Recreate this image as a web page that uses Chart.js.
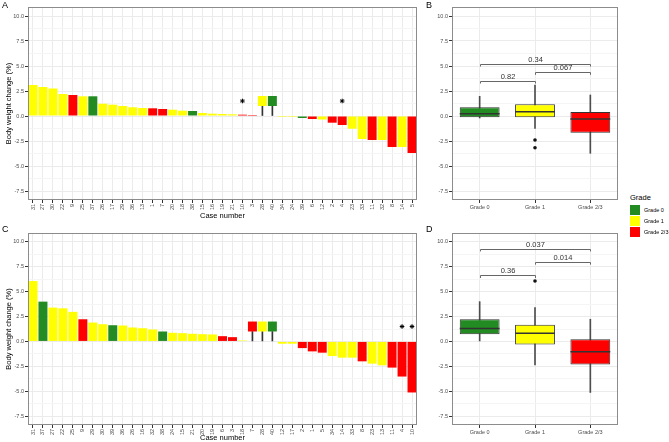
<!DOCTYPE html>
<html>
<head>
<meta charset="UTF-8">
<title>Body weight change by grade</title>
<script src="https://cdn.jsdelivr.net/npm/chart.js"></script>
<style>
  body { margin: 0; background: #fff; font-family: "Liberation Sans", Arial, sans-serif; }
  #page { position: relative; width: 669px; height: 442px; overflow: hidden; }
  canvas { position: absolute; }
  .tag { position: absolute; font-size: 9px; line-height: 9px; color: #000; }
  #legend { position: absolute; left: 630px; top: 193px; }
  #legend .title { font-size: 7.5px; line-height: 9px; color: #000; margin-bottom: 3px; }
  #legend .item { position: relative; height: 11px; }
  #legend .key { position: absolute; left: 0; top: 0; width: 10px; height: 10px; }
  #legend .lab { position: absolute; left: 14px; top: 2px; font-size: 5.5px; line-height: 6px; color: #000; white-space: nowrap; }
</style>
</head>
<body>
<div id="page">
  <canvas id="chartA" width="422" height="220" style="left:0;top:0"></canvas>
  <canvas id="chartB" width="198" height="220" style="left:424px;top:0"></canvas>
  <canvas id="chartC" width="422" height="216" style="left:0;top:226px"></canvas>
  <canvas id="chartD" width="198" height="216" style="left:424px;top:226px"></canvas>
  <div class="tag" style="left:2px;top:1px">A</div>
  <div class="tag" style="left:426px;top:1px">B</div>
  <div class="tag" style="left:2px;top:225px">C</div>
  <div class="tag" style="left:426px;top:225px">D</div>
  <div id="legend"><div class="title">Grade</div></div>
</div>

<script>
const FONT = '"Liberation Sans", Arial, sans-serif';

const yMajor = [-7.5, -5, -2.5, 0, 2.5, 5, 7.5, 10];
const yMin = -8.4, yMax = 10.9;

const gradeNames = ['Grade 0', 'Grade 1', 'Grade 2/3'];
const gradeColors = ['#228B22', '#FFFF00', '#FF0000'];

// cases with no value get a floating marker from naLow to naHigh, stem from 0
const naLow = 1, naHigh = 2;
const starY = 1.5;

// panel A
const casesA = ['31','27','30','22','9','25','37','26','17','29','36','13','1','7','20','18','38','15','16','19',
                '21','10','3','28','40','34','24','39','6','12','2','4','23','33','11','32','8','14','5'];
const changeA = [3.1, 2.9, 2.75, 2.2, 2.1, 1.97, 1.97, 1.23, 1.13, 1.0, 0.87, 0.8, 0.77, 0.7, 0.63, 0.53, 0.5, 0.3, 0.23, 0.2,
                 0.17, 0.13, 0.1, null, null, -0.1, -0.1, -0.2, -0.3, -0.35, -0.67, -0.9, -1.27, -2.3, -2.4, -2.4, -3.1, -3.1, -3.7];
const gradeA = [1,1,1,1,2,1,0,1,1,1,1,1,2,2,1,1,0,1,1,1,
                1,2,2,1,0,1,1,0,2,1,2,2,1,1,2,1,2,1,2];
const starCasesA = ['10', '4'];

// panel C
const casesC = ['31','37','27','22','25','9','29','30','39','36','26','16','32','38','24','15','21','20','19','6',
                '3','18','7','28','40','12','17','2','1','5','34','14','33','8','23','13','11','4','10'];
const changeC = [6.07, 4.0, 3.4, 3.33, 2.97, 2.23, 1.9, 1.73, 1.63, 1.6, 1.4, 1.33, 1.2, 1.0, 0.87, 0.83, 0.77, 0.73, 0.7, 0.53,
                 0.43, 0.1, null, null, null, -0.23, -0.23, -0.67, -1.0, -1.13, -1.47, -1.63, -1.63, -2.0, -2.23, -2.4, -2.63, -3.53, -5.13];
const gradeC = [1,0,1,1,1,2,1,1,0,1,1,1,1,0,1,1,1,1,1,2,
                2,1,2,1,0,1,1,2,2,2,1,1,1,2,1,1,2,2,2];
const starCasesC = ['4', '10'];

// panel B boxplots
const lowB = [-0.2, -1.23, -3.73];
const q1B = [-0.13, -0.13, -1.67];
const medB = [0.23, 0.43, -0.3];
const q3B = [0.87, 1.17, 0.4];
const highB = [1.97, 3.1, 2.1];
const outGroupB = ['Grade 1', 'Grade 1'];
const outB = [-2.4, -3.17];

// panel D boxplots
const lowD = [0, -2.37, -5.13];
const q1D = [0.73, -0.3, -2.33];
const medD = [1.3, 0.83, -1.03];
const q3D = [2.23, 1.67, 0.23];
const highD = [4.0, 3.4, 2.23];
const outGroupD = ['Grade 1'];
const outD = [6.07];

// p-value brackets
const bracketFrom = [0, 1, 0];
const bracketTo = [1, 2, 2];
const bracketYB = [3.5, 4.37, 5.2];
const pLabelsB = ['0.82', '0.067', '0.34'];
const bracketYD = [6.63, 7.97, 9.3];
const pLabelsD = ['0.36', '0.014', '0.037'];
const bracketDrop = 0.25;

Chart.defaults.font.family = FONT;
Chart.defaults.animation = false;

const tickFont = { family: FONT, size: 5.5 };
const tickColor = '#4D4D4D';
const titleFont = { family: FONT, size: 7.5 };

const frame = {
  id: 'frame',
  afterDraw(chart) {
    const a = chart.chartArea, ctx = chart.ctx;
    ctx.save();
    ctx.strokeStyle = '#8C8C8C';
    ctx.lineWidth = 1;
    ctx.strokeRect(Math.round(a.left) + 0.5, Math.round(a.top) + 0.5,
                   Math.round(a.right - a.left) - 1, Math.round(a.bottom - a.top) - 1);
    ctx.restore();
  }
};

function yAxis(width, title) {
  const minor = yMajor.slice(1).map((v, i) => (v + yMajor[i]) / 2);
  const all = yMajor.concat(minor).sort((a, b) => a - b);
  const isMajor = c => c.tick && yMajor.includes(c.tick.value);
  return {
    min: yMin, max: yMax,
    afterBuildTicks: s => { s.ticks = all.map(v => ({ value: v })); },
    afterFit: s => { s.width = width; },
    ticks: { autoSkip: false, font: tickFont, color: tickColor, padding: 1,
             callback: v => yMajor.includes(v) ? v.toFixed(1) : '' },
    grid: { color: c => isMajor(c) ? '#EBEBEB' : '#F5F5F5',
            tickColor: c => isMajor(c) ? '#333' : 'rgba(0,0,0,0)',
            tickLength: 3 },
    border: { display: false },
    title: { display: !!title, text: title || '', font: titleFont, color: '#000', padding: { top: 4, bottom: 0 } }
  };
}

function xAxis(height, title, rotate) {
  return {
    afterFit: s => { s.height = height; },
    ticks: { autoSkip: false, minRotation: rotate, maxRotation: rotate, font: tickFont, color: tickColor, padding: 1 },
    grid: { offset: false, color: '#EBEBEB', tickColor: '#333', tickLength: 3 },
    border: { display: false },
    title: { display: !!title, text: title || '', font: titleFont, color: '#000', padding: { top: 0, bottom: 0 } }
  };
}

function barPanel(id, cases, change, grade, starCases, xHeight) {
  const colors = grade.map(g => gradeColors[g]);
  const naBox = change.map(v => v === null ? [naLow, naHigh] : null);
  const naStem = change.map(v => v === null ? [0, naLow] : null);
  new Chart(document.getElementById(id), {
    type: 'bar',
    data: {
      labels: cases,
      datasets: [
        { data: change, backgroundColor: colors, grouped: false, barPercentage: 0.9, categoryPercentage: 1, order: 2 },
        { data: naBox, backgroundColor: colors, grouped: false, barPercentage: 0.9, categoryPercentage: 1, order: 2 },
        { data: naStem, backgroundColor: '#333', grouped: false, barThickness: 1, order: 3 },
        { type: 'line', data: starCases.map(c => ({ x: c, y: starY })), showLine: false,
          pointStyle: 'star', pointRadius: 2.3, borderColor: '#000', backgroundColor: '#000', borderWidth: 1, order: 1 }
      ]
    },
    options: {
      responsive: false,
      layout: { padding: { top: 7, right: 5, left: 0, bottom: 0 } },
      plugins: { legend: { display: false }, tooltip: { enabled: false } },
      scales: {
        x: xAxis(xHeight, 'Case number', 90),
        y: yAxis(28, 'Body weight change (%)')
      }
    },
    plugins: [frame]
  });
}

function boxPanel(id, low, q1, med, q3, high, outGroup, out, brY, brLabels, xHeight) {
  const medians = {
    id: 'medians',
    afterDatasetsDraw(chart) {
      const meta = chart.getDatasetMeta(1), y = chart.scales.y, ctx = chart.ctx;
      ctx.save();
      ctx.strokeStyle = '#333';
      ctx.lineWidth = 1.5;
      meta.data.forEach((el, i) => {
        const yy = y.getPixelForValue(med[i]);
        ctx.beginPath();
        ctx.moveTo(el.x - el.width / 2, yy);
        ctx.lineTo(el.x + el.width / 2, yy);
        ctx.stroke();
      });
      ctx.restore();
    }
  };
  const brackets = {
    id: 'brackets',
    afterDatasetsDraw(chart) {
      const x = chart.scales.x, y = chart.scales.y, ctx = chart.ctx;
      ctx.save();
      ctx.strokeStyle = '#666';
      ctx.lineWidth = 1;
      ctx.fillStyle = '#333';
      ctx.font = '7.5px ' + FONT;
      ctx.textAlign = 'center';
      ctx.textBaseline = 'bottom';
      brY.forEach((v, i) => {
        const x0 = Math.round(x.getPixelForValue(bracketFrom[i])) + 0.5;
        const x1 = Math.round(x.getPixelForValue(bracketTo[i])) + 0.5;
        const yy = Math.round(y.getPixelForValue(v)) + 0.5;
        const yd = y.getPixelForValue(v - bracketDrop);
        ctx.beginPath();
        ctx.moveTo(x0, yd);
        ctx.lineTo(x0, yy);
        ctx.lineTo(x1, yy);
        ctx.lineTo(x1, yd);
        ctx.stroke();
        ctx.fillText(brLabels[i], (x0 + x1) / 2, yy - 1);
      });
      ctx.restore();
    }
  };
  new Chart(document.getElementById(id), {
    type: 'bar',
    data: {
      labels: gradeNames,
      datasets: [
        { data: low.map((v, i) => [v, high[i]]), backgroundColor: '#4D4D4D', grouped: false, barThickness: 1, order: 3 },
        { data: q1.map((v, i) => [v, q3[i]]), backgroundColor: gradeColors, borderColor: '#333', borderWidth: 1,
          borderSkipped: false, grouped: false, barPercentage: 0.72, categoryPercentage: 1, order: 2 },
        { type: 'line', data: out.map((v, i) => ({ x: outGroup[i], y: v })), showLine: false,
          pointRadius: 1.8, backgroundColor: '#111', borderWidth: 0, order: 1 }
      ]
    },
    options: {
      responsive: false,
      layout: { padding: { top: 7, right: 3, left: 0, bottom: 0 } },
      plugins: { legend: { display: false }, tooltip: { enabled: false } },
      scales: {
        x: xAxis(xHeight, '', 0),
        y: yAxis(28, '')
      }
    },
    plugins: [frame, medians, brackets]
  });
}

barPanel('chartA', casesA, changeA, gradeA, starCasesA, 20);
barPanel('chartC', casesC, changeC, gradeC, starCasesC, 17);
boxPanel('chartB', lowB, q1B, medB, q3B, highB, outGroupB, outB, bracketYB, pLabelsB, 20);
boxPanel('chartD', lowD, q1D, medD, q3D, highD, outGroupD, outD, bracketYD, pLabelsD, 17);

// legend
const legend = document.getElementById('legend');
gradeNames.forEach((name, i) => {
  const item = document.createElement('div');
  item.className = 'item';
  item.innerHTML = '<div class="key" style="background:' + gradeColors[i] + '"></div><div class="lab">' + name + '</div>';
  legend.appendChild(item);
});
</script>
</body>
</html>
